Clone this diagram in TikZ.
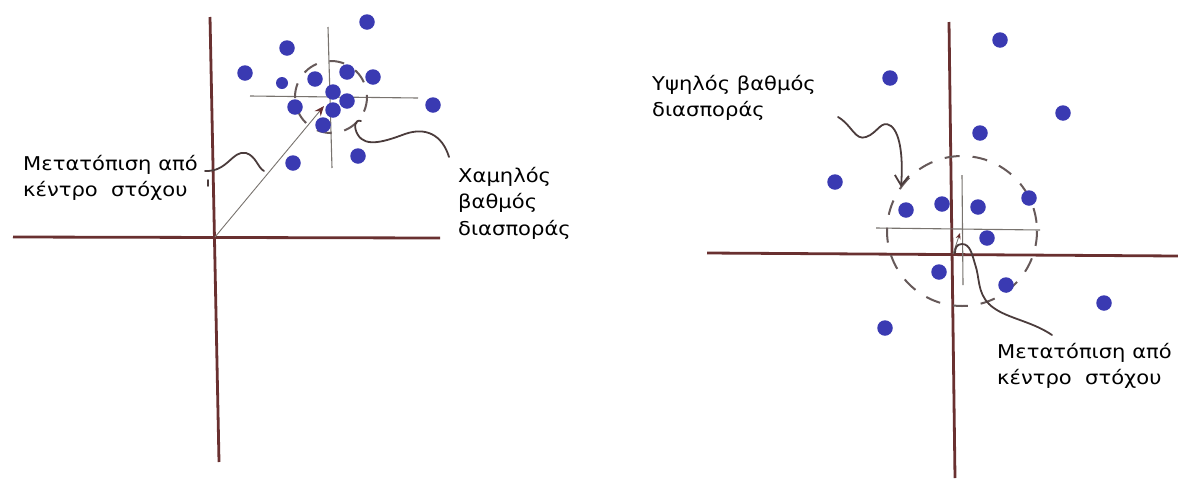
\documentclass[tikz,border=0pt]{standalone}
\usepackage{fontspec}
\setmainfont{DejaVu Sans}
\usetikzlibrary{arrows.meta}
\definecolor{axiscol}{RGB}{105,48,48}
\definecolor{dotblue}{RGB}{58,58,178}
\definecolor{thincol}{RGB}{120,115,110}
\definecolor{pencol}{RGB}{75,60,60}
\newcommand{\widetxt}[1]{\scalebox{1.11}[1]{#1}}
\tikzset{
  axis/.style={draw=axiscol, line width=2.8pt},
  cross/.style={draw=thincol, line width=1.1pt},
  ring/.style={draw=pencol!85, line width=2pt, dash pattern=on 15pt off 13pt},
  pen/.style={draw=pencol, line width=1.8pt, line cap=round},
  dot/.style={circle, fill=dotblue, minimum size=15.5pt, inner sep=0pt},
  sdot/.style={circle, fill=dotblue, minimum size=12pt, inner sep=0pt},
  lbl/.style={align=left, inner sep=0pt, anchor=north west, font=\fontsize{19}{26.5}\selectfont}
}
\begin{document}
\begin{tikzpicture}[x=1pt,y=-1pt]
\useasboundingbox (0,0) rectangle (1178,488);
% ---------- left diagram ----------
\coordinate (LVt) at (210,17);
\coordinate (LVb) at (219,462);
\coordinate (LHl) at (13,237);
\coordinate (LHr) at (440,238);
\coordinate (LO) at (215,237);
\draw[axis] (LVt) -- (LVb);
\draw[axis] (LHl) -- (LHr);
\coordinate (LCc) at (331,97);
\coordinate (LCh1) at (250,96);
\coordinate (LCh2) at (418,98);
\coordinate (LCv1) at (328,27);
\coordinate (LCv2) at (332,168);
\draw[cross] (LCh1) -- (LCh2);
\draw[cross] (LCv1) -- (LCv2);
\draw[ring] (LCc) circle[radius=36];
\foreach \n/\x/\y in {a1/367/22, a2/287/48, a3/245/73, a5/315/79, a6/347/72, a7/373/77,
  a8/333/92, a9/347/101, a10/295/107, a11/333/110, a12/323/125, a13/433/105, a14/358/156, a15/293/163}
  \node[dot] (\n) at (\x,\y) {};
\node[sdot] (a4) at (282,83) {};
\coordinate (LT) at (324,106);
\draw[cross, line width=0.9pt, -{Stealth[length=10pt,width=8pt,color=axiscol]}] (LO) -- (LT);
% labels left
\node[lbl] (L1) at (23,155) {\widetxt{Μετατόπιση από}\\\widetxt{κέντρο\ \ στόχου}};
\node[lbl] (L2) at (458,167) {\widetxt{Χαμηλός}\\\widetxt{βαθμός}\\\widetxt{διασποράς}};
\coordinate (p1s) at (205,171);
\coordinate (p1e) at (264,171);
\draw[pen] (p1s) .. controls (228,172) and (232,150) .. (246,153) .. controls (256,156) and (258,168) .. (p1e);
\draw[pen] (208,180) -- (208,186);
\coordinate (p2s) at (449,157);
\coordinate (p2e) at (361,121);
\draw[pen] (p2s) .. controls (442,134) and (425,127) .. (405,134) .. controls (386,141) and (366,148) .. (358,135) .. controls (353,127) and (355,119) .. (p2e);
% ---------- right diagram ----------
\coordinate (RVt) at (949,22);
\coordinate (RVb) at (955,478);
\coordinate (RHl) at (707,253);
\coordinate (RHr) at (1178,256);
\coordinate (RO) at (953,254);
\draw[axis] (RVt) -- (RVb);
\draw[axis] (RHl) -- (RHr);
\coordinate (RCc) at (962,231);
\coordinate (RCh1) at (876,228);
\coordinate (RCh2) at (1040,230);
\coordinate (RCv1) at (962,175);
\coordinate (RCv2) at (963,285);
\draw[cross] (RCh1) -- (RCh2);
\draw[cross] (RCv1) -- (RCv2);
\draw[ring] (RCc) circle[radius=75];
\foreach \n/\x/\y in {b1/1000/40, b2/890/78, b3/1063/113, b4/980/133, b5/835/182, b6/1029/198,
  b7/906/210, b8/942/204, b9/978/207, b10/987/238, b11/939/272, b12/1006/285, b13/1104/303, b14/885/328}
  \node[dot] (\n) at (\x,\y) {};
\coordinate (RT) at (960,233);
\draw[cross, line width=0.9pt, -{Stealth[length=6pt,width=5pt,color=axiscol]}] (RO) -- (RT);
\node[lbl] (L3) at (652,75) {\widetxt{Υψηλός βαθμός}\\\widetxt{διασποράς}};
\node[lbl] (L4) at (997,343) {\widetxt{Μετατόπιση από}\\\widetxt{κέντρο\ \ στόχου}};
\coordinate (p3s) at (838,117);
\coordinate (p3e) at (901,187);
\draw[pen, -{Straight Barb[length=10pt,width=14pt]}] (p3s) .. controls (852,125) and (855,141) .. (866,137) .. controls (878,133) and (881,119) .. (891,126) .. controls (901,134) and (903,160) .. (p3e);
\coordinate (p4s) at (1052,335);
\coordinate (p4e) at (955,253);
\draw[pen] (p4s) .. controls (1030,320) and (1003,318) .. (989,304) .. controls (977,292) and (980,278) .. (975,264) .. controls (972,254) and (970,244) .. (962,244) .. controls (956,244) and (955,249) .. (p4e);
\end{tikzpicture}
\end{document}
